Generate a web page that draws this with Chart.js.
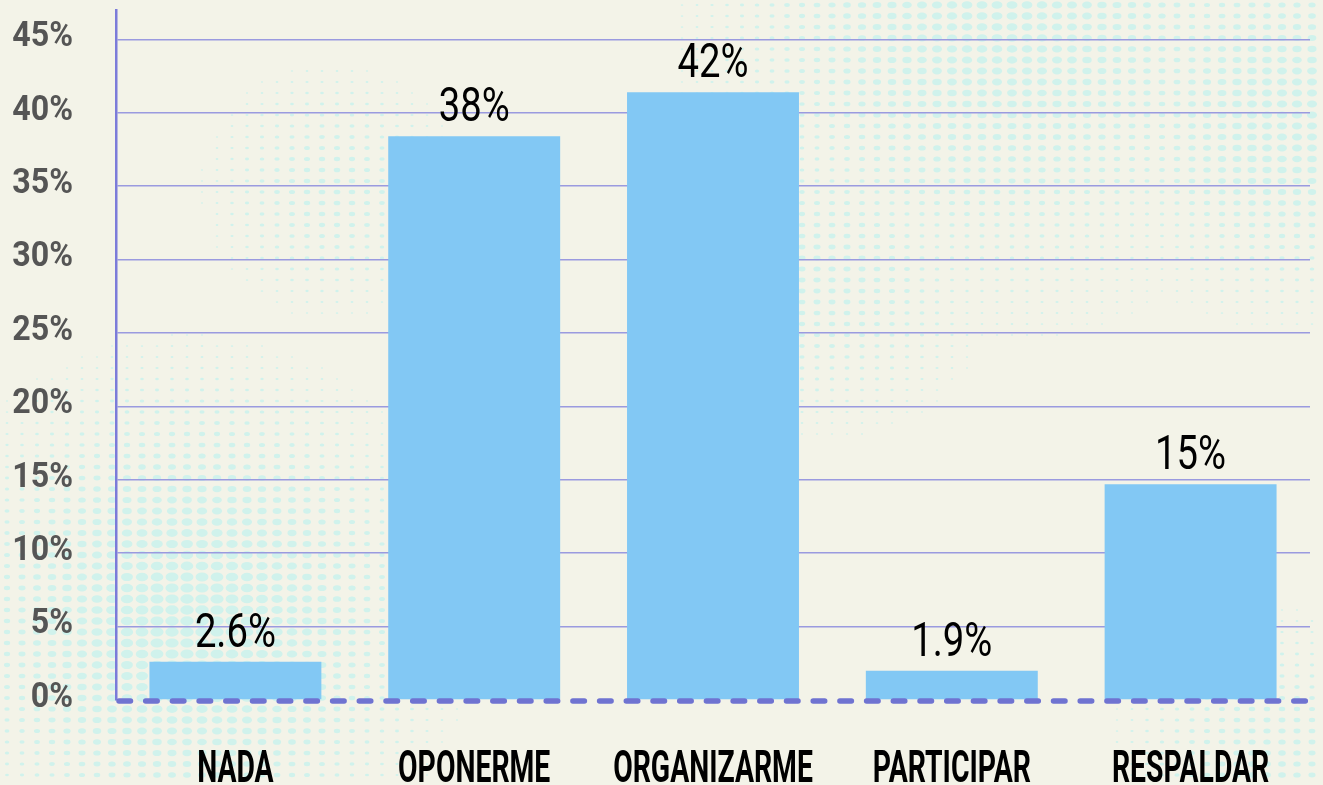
<!DOCTYPE html>
<html>
<head>
<meta charset="utf-8">
<script src="https://cdn.jsdelivr.net/npm/chart.js@4.4.1/dist/chart.umd.min.js"></script>
<style>
  html, body { margin: 0; padding: 0; background: #f3f3e8; }
  #wrap { width: 1323px; height: 785px; }
</style>
</head>
<body>
<div id="wrap"><canvas id="myChart"></canvas></div>
<script>
const categories = ["NADA", "OPONERME", "ORGANIZARME", "PARTICIPAR", "RESPALDAR"];
const values = [2.6, 38.4, 41.4, 2.0, 14.7];
const valueLabels = ["2.6%", "38%", "42%", "1.9%", "15%"];
const yTicks = [0, 5, 10, 15, 20, 25, 30, 35, 40, 45];

const FONT = "Roboto, 'Liberation Sans', sans-serif";

const colors = {
  bg: "#f3f3e8",
  bar: "#82c8f4",
  grid: "#9a9adf",
  axis: "#7b7bd9",
  dash: "#6f73d1",
  dot: "#d0f2ec",
  tick: "#555555"
};

// soft halftone blobs in the background
const blobs = [
  { x: 190, y: 620, r: 260, s: 1.3 },
  { x: 1000, y: 10, r: 320, s: 1.05 },
  { x: 1290, y: 110, r: 220, s: 1.0 },
  { x: 830, y: 270, r: 190, s: 0.7 },
  { x: 1270, y: 770, r: 180, s: 0.75 },
  { x: 330, y: 190, r: 150, s: 0.65 }
];

const halftone = {
  id: "halftone",
  beforeDraw(chart) {
    const { ctx, width, height } = chart;
    ctx.save();
    ctx.fillStyle = colors.bg;
    ctx.fillRect(0, 0, width, height);
    ctx.fillStyle = colors.dot;
    for (let y = 5; y < height; y += 11) {
      for (let x = 7; x < width; x += 15) {
        let f = 0;
        blobs.forEach(b => {
          const d2 = ((x - b.x) ** 2 + (y - b.y) ** 2) / (b.r * b.r);
          f = Math.max(f, b.s * Math.exp(-d2 * 1.5));
        });
        const rx = 5.2 * f, ry = 3.6 * f;
        if (rx < 1.1) continue;
        ctx.beginPath();
        ctx.ellipse(x, y, rx, ry, 0, 0, Math.PI * 2);
        ctx.fill();
      }
    }
    ctx.restore();
  }
};

// condensed text: squeeze horizontally around (x, y)
function squeezedText(ctx, text, x, y, sx, align) {
  ctx.save();
  ctx.translate(x, y);
  ctx.scale(sx, 1);
  ctx.textAlign = align;
  ctx.fillText(text, 0, 0);
  ctx.restore();
}

const textLayer = {
  id: "textLayer",
  afterDatasetsDraw(chart) {
    const { ctx, chartArea, scales } = chart;
    const y0 = scales.y.getPixelForValue(0);
    ctx.save();
    // dashed zero line
    ctx.strokeStyle = colors.dash;
    ctx.lineWidth = 5.5;
    ctx.lineCap = "round";
    ctx.setLineDash([11.5, 15.2]);
    ctx.beginPath();
    ctx.moveTo(chartArea.left + 3, y0 + 1);
    ctx.lineTo(chartArea.right + 8, y0 + 1);
    ctx.stroke();
    ctx.setLineDash([]);

    // value labels
    ctx.fillStyle = "#000";
    ctx.font = "49px " + FONT;
    ctx.textBaseline = "alphabetic";
    chart.getDatasetMeta(0).data.forEach((bar, i) => {
      squeezedText(ctx, valueLabels[i], bar.x, bar.y - 15, 0.78, "center");
    });

    // y tick labels
    ctx.fillStyle = colors.tick;
    ctx.font = "bold 35px " + FONT;
    ctx.textBaseline = "middle";
    scales.y.ticks.forEach(t => {
      squeezedText(ctx, t.value + "%", 73, scales.y.getPixelForValue(t.value) - 2, 0.92, "right");
    });

    // category labels
    ctx.fillStyle = "#000";
    ctx.font = "bold 45px " + FONT;
    ctx.textBaseline = "alphabetic";
    categories.forEach((c, i) => {
      squeezedText(ctx, c, scales.x.getPixelForValue(i), 782, 0.63, "center");
    });
    ctx.restore();
  }
};

new Chart(document.getElementById("myChart"), {
  type: "bar",
  data: {
    labels: categories,
    datasets: [{
      data: values,
      backgroundColor: colors.bar,
      borderWidth: 0,
      categoryPercentage: 1,
      barPercentage: 0.72
    }]
  },
  options: {
    responsive: true,
    maintainAspectRatio: false,
    animation: false,
    layout: { padding: { top: 10, right: 13, left: 0, bottom: 0 } },
    plugins: { legend: { display: false }, tooltip: { enabled: false } },
    scales: {
      y: {
        min: 0,
        max: 47,
        afterBuildTicks: axis => { axis.ticks = yTicks.map(v => ({ value: v })); },
        afterFit: scale => { scale.width = 116; },
        ticks: { display: false },
        grid: {
          color: ctx => ctx.tick && ctx.tick.value === 0 ? "rgba(0,0,0,0)" : colors.grid,
          lineWidth: 1.5,
          drawTicks: false
        },
        border: { color: colors.axis, width: 2.5 }
      },
      x: {
        afterFit: scale => { scale.height = 85; },
        ticks: { display: false },
        grid: { display: false, drawTicks: false },
        border: { display: false }
      }
    }
  },
  plugins: [halftone, textLayer]
});
</script>
</body>
</html>
